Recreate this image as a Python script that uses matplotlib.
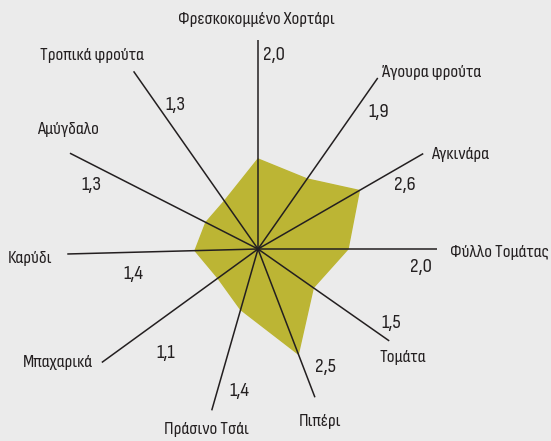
import numpy as np
import matplotlib
matplotlib.use("Agg")
import matplotlib.pyplot as plt

# data
categories = ["Φρεσκοκομμένο Χορτάρι", "Άγουρα φρούτα", "Αγκινάρα", "Φύλλο Τομάτας",
              "Τομάτα", "Πιπέρι", "Πράσινο Τσάι", "Μπαχαρικά", "Καρύδι",
              "Αμύγδαλο", "Τροπικά φρούτα"]
values = [2.0, 1.9, 2.6, 2.0, 1.5, 2.5, 1.4, 1.1, 1.4, 1.3, 1.3]
value_labels = [f"{v:.1f}".replace(".", ",") for v in values]

# layout (degrees clockwise from top, radii in value units)
spoke_deg = [0, 35, 60, 90, 125, 159, 196, 234, 268.5, 297, 325]
spoke_len = [4.64, 4.64, 4.24, 3.98, 3.56, 3.53, 3.73, 4.29, 4.24, 4.69, 4.82]
cat_pos = [(-0.3, 5.11), (44.5, 5.51), (65.0, 4.95), (90.9, 5.37), (126.9, 4.03),
           (160.3, 4.08), (196.0, 4.18), (240.5, 5.10), (267.7, 5.07),
           (302.1, 4.98), (319.3, 5.66)]
val_pos = [(4.7, 4.33), (41.4, 4.07), (66.5, 3.56), (96.3, 3.64), (119.1, 3.38),
           (150.0, 3.02), (187.6, 3.18), (221.5, 3.09), (258.7, 2.82),
           (291.0, 3.96), (330.3, 3.69)]

plt.rcParams["font.family"] = ["Sofia Sans Condensed", "Roboto Condensed", "DejaVu Sans"]

bg = "#ebebeb"
ink = "#231f20"
fig = plt.figure(figsize=(5.51, 4.41), dpi=100, facecolor=bg)
# centre at (258, 249) px, 45 px per value unit, radius 5 units
ax = fig.add_axes([(258 - 225) / 551, (192 - 225) / 441, 450 / 551, 450 / 441],
                  projection="polar")
ax.set_theta_zero_location("N")
ax.set_theta_direction(-1)
ax.set_ylim(0, 5)
ax.axis("off")

theta = np.radians(spoke_deg)
ax.fill(np.append(theta, theta[0]), values + values[:1], color="#bcb534",
        zorder=1, clip_on=False)

for t, L in zip(theta, spoke_len):
    ax.plot([t, t], [0, L], color=ink, lw=1.1, zorder=2,
            solid_capstyle="butt", clip_on=False)

for name, (a, r) in zip(categories, cat_pos):
    ax.text(np.radians(a), r, name, ha="center", va="center", fontsize=13.5,
            fontweight="medium", color=ink, clip_on=False)

for lab, (a, r) in zip(value_labels, val_pos):
    ax.text(np.radians(a), r, lab, ha="center", va="center", fontsize=15,
            fontweight="medium", color=ink, clip_on=False)

fig.savefig("out.png", dpi=100, facecolor=bg)
